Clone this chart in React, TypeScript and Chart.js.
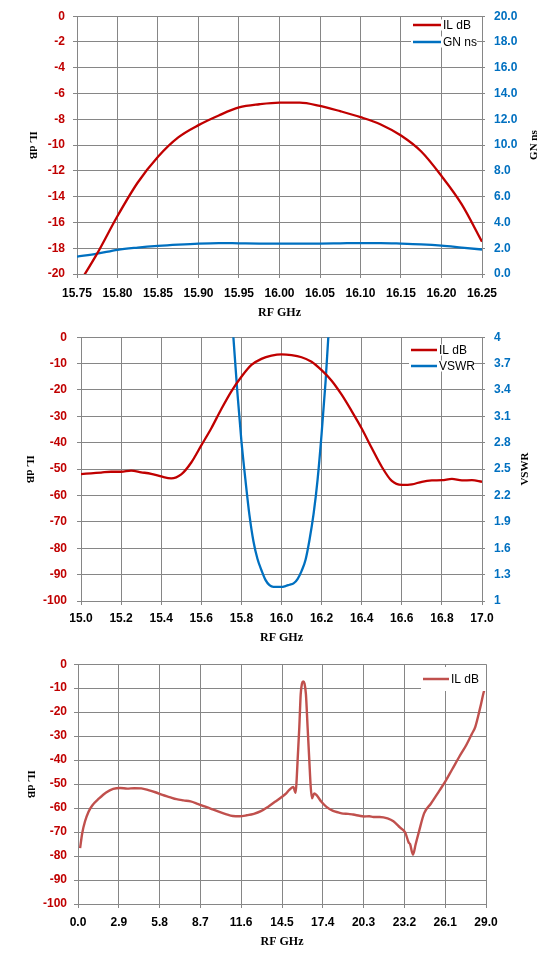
import { useEffect, useRef } from 'react';
import Chart from 'chart.js/auto';

const RED = '#c00000';
const BLUE = '#0070c0';
const BROWN = '#c0504d';
const GRID = '#868686';
const SANS = '"Liberation Sans", Arial, sans-serif';
const SERIF = '"Liberation Serif", "Times New Roman", serif';

// chart 1: narrow band, IL dB + group delay
const c1Freq = [15.75, 15.775, 15.8, 15.825, 15.85, 15.875, 15.9, 15.925, 15.95, 15.975, 16.0, 16.025, 16.05, 16.075, 16.1, 16.125, 16.15, 16.175, 16.2, 16.225, 16.25];
const c1Il = [-21.0, -18.4, -15.5, -12.9, -10.9, -9.4, -8.45, -7.7, -7.08, -6.83, -6.7, -6.7, -6.96, -7.37, -7.83, -8.4, -9.26, -10.5, -12.4, -14.6, -17.5];
const c1Gn = [1.35, 1.58, 1.88, 2.05, 2.18, 2.28, 2.36, 2.4, 2.38, 2.36, 2.35, 2.35, 2.36, 2.38, 2.4, 2.4, 2.36, 2.3, 2.2, 2.05, 1.9];
const c1FreqTicks = [15.75, 15.8, 15.85, 15.9, 15.95, 16.0, 16.05, 16.1, 16.15, 16.2, 16.25];
const c1IlTicks = [0, -2, -4, -6, -8, -10, -12, -14, -16, -18, -20];
const c1GnTicks = [0, 2, 4, 6, 8, 10, 12, 14, 16, 18, 20];

// chart 2: 15-17 GHz, IL dB + VSWR
const c2Freq = [15.0, 15.05, 15.1, 15.15, 15.2, 15.25, 15.3, 15.35, 15.4, 15.45, 15.5, 15.55, 15.6, 15.65, 15.7, 15.75, 15.8, 15.85, 15.9, 15.95, 16.0, 16.05, 16.1, 16.15, 16.2, 16.25, 16.3, 16.35, 16.4, 16.45, 16.5, 16.55, 16.6, 16.65, 16.7, 16.75, 16.8, 16.85, 16.9, 16.95, 17.0];
const c2Il = [-51.9, -51.6, -51.3, -51.0, -51.0, -50.6, -51.2, -51.8, -52.8, -53.5, -52.0, -47.5, -41.0, -34.5, -27.2, -20.5, -15.0, -10.5, -8.2, -7.0, -6.5, -6.8, -7.6, -9.3, -12.5, -16.5, -21.8, -28.0, -34.6, -42.0, -49.1, -54.5, -56.0, -55.8, -54.8, -54.3, -54.2, -53.7, -54.3, -54.2, -54.8];
const c2VswrFreq = [15.74, 15.76, 15.78, 15.8, 15.82, 15.84, 15.86, 15.88, 15.9, 15.92, 15.94, 15.96, 15.98, 16.0, 16.02, 16.04, 16.06, 16.08, 16.1, 16.12, 16.14, 16.16, 16.18, 16.2, 16.22, 16.24, 16.26];
const c2Vswr = [4.6, 4.0, 3.37, 2.82, 2.38, 1.98, 1.68, 1.48, 1.35, 1.24, 1.18, 1.16, 1.16, 1.16, 1.17, 1.185, 1.2, 1.25, 1.34, 1.47, 1.7, 1.99, 2.38, 2.9, 3.5, 4.25, 5.0];
const c2FreqTicks = [15.0, 15.2, 15.4, 15.6, 15.8, 16.0, 16.2, 16.4, 16.6, 16.8, 17.0];
const c2IlTicks = [0, -10, -20, -30, -40, -50, -60, -70, -80, -90, -100];
const c2VswrTicks = [1, 1.3, 1.6, 1.9, 2.2, 2.5, 2.8, 3.1, 3.4, 3.7, 4];

// chart 3: wideband IL dB
const c3Freq = [0.15, 0.3, 0.5, 0.75, 1.0, 1.5, 2.0, 2.5, 3.0, 3.5, 4.0, 4.5, 5.0, 5.5, 6.0, 6.5, 7.0, 7.5, 8.0, 8.5, 9.0, 9.5, 10.0, 10.5, 11.0, 11.5, 12.0, 12.5, 13.0, 13.5, 14.0, 14.5, 14.8, 15.0, 15.3, 15.47, 15.54, 15.61, 15.73, 15.83, 15.92, 16.01, 16.1, 16.2, 16.32, 16.44, 16.54, 16.63, 16.79, 16.96, 17.3, 17.66, 18.13, 18.5, 18.84, 19.2, 19.55, 20.0, 20.3, 20.7, 21.0, 21.45, 22.0, 22.42, 22.9, 23.26, 23.5, 23.6, 23.81, 24.0, 24.24, 24.6, 25.09, 25.7, 26.1, 26.6, 27.1, 27.6, 28.0, 28.24, 28.6, 28.9, 29.0];
const c3Il = [-76.7, -70.5, -65.5, -61.5, -59.0, -56.0, -53.5, -52.0, -51.6, -51.9, -51.7, -51.8, -52.5, -53.4, -54.5, -55.4, -56.3, -56.8, -57.2, -58.2, -59.3, -60.4, -61.5, -62.5, -63.3, -63.4, -63.0, -62.4, -61.3, -59.5, -57.4, -55.3, -53.9, -52.5, -51.2, -53.6, -48.3, -40.0, -26.3, -12.5, -8.0, -7.2, -8.0, -12.5, -26.3, -40.0, -51.1, -55.9, -53.9, -54.6, -57.4, -59.5, -61.2, -61.8, -62.3, -62.4, -62.7, -63.2, -63.5, -63.4, -63.7, -63.7, -64.3, -65.5, -68.2, -70.2, -74.3, -75.0, -79.4, -75.1, -69.7, -62.2, -58.1, -52.6, -49.0, -43.8, -38.6, -33.7, -29.0, -26.1, -17.8, -10.5, -10.0];
const c3FreqTicks = [0, 2.9, 5.8, 8.7, 11.6, 14.5, 17.4, 20.3, 23.2, 26.1, 29.0];
const c3IlTicks = [0, -10, -20, -30, -40, -50, -60, -70, -80, -90, -100];

const pts = (xs: number[], ys: number[]) => xs.map((x, i) => ({ x, y: ys[i] }));
const fixTicks = (arr: number[]) => (scale: any) => {
  scale.ticks = arr.map((value) => ({ value }));
};
const fixWidth = (w: number) => (scale: any) => {
  scale.width = w;
};
const fixHeight = (h: number) => (scale: any) => {
  scale.height = h;
};

type Titles = { left?: [string, number]; right?: [string, number]; bottom: [string, number] };

function titlePlugin(t: Titles) {
  return {
    id: 'axisTitles',
    afterDraw(chart: any) {
      const { ctx, chartArea: a } = chart;
      const cy = (a.top + a.bottom) / 2;
      ctx.save();
      ctx.fillStyle = '#000';
      ctx.textAlign = 'center';
      ctx.textBaseline = 'middle';
      ctx.font = `bold 11px ${SERIF}`;
      if (t.left) {
        ctx.save();
        ctx.translate(t.left[1], cy);
        ctx.rotate(Math.PI / 2);
        ctx.fillText(t.left[0], 0, 0);
        ctx.restore();
      }
      if (t.right) {
        ctx.save();
        ctx.translate(t.right[1], cy);
        ctx.rotate(-Math.PI / 2);
        ctx.fillText(t.right[0], 0, 0);
        ctx.restore();
      }
      ctx.font = `bold 12px ${SERIF}`;
      ctx.fillText(t.bottom[0], (a.left + a.right) / 2, t.bottom[1]);
      ctx.restore();
    },
  };
}

type LegendPos = { x: number; y: number; line: number; row: number; boxW: number; boxH: number };

function legendPlugin(p: LegendPos) {
  return {
    id: 'innerLegend',
    afterDraw(chart: any) {
      const { ctx } = chart;
      ctx.save();
      ctx.font = `12px ${SANS}`;
      ctx.textBaseline = 'middle';
      chart.data.datasets.forEach((ds: any, i: number) => {
        const y = p.y + i * p.row;
        ctx.fillStyle = '#fff';
        ctx.fillRect(p.x - 2, y - p.boxH / 2, p.boxW, p.boxH);
        ctx.strokeStyle = ds.borderColor;
        ctx.lineWidth = 2.5;
        ctx.beginPath();
        ctx.moveTo(p.x, y);
        ctx.lineTo(p.x + p.line, y);
        ctx.stroke();
        ctx.fillStyle = '#000';
        ctx.fillText(ds.label, p.x + p.line + 2, y + 0.5);
      });
      ctx.restore();
    },
  };
}

const tickFont = { family: SANS, size: 12, weight: 'bold' as const };

function gridAxis(extra: any) {
  return {
    type: 'linear',
    grid: { color: GRID, lineWidth: 1, tickLength: 4 },
    border: { color: GRID, width: 1 },
    ...extra,
  };
}

function buildChart1(): any {
  return {
    type: 'line',
    data: {
      datasets: [
        { label: 'IL dB', data: pts(c1Freq, c1Il), yAxisID: 'y', borderColor: RED, borderWidth: 2.3 },
        { label: 'GN ns', data: pts(c1Freq, c1Gn), yAxisID: 'y1', borderColor: BLUE, borderWidth: 2.3 },
      ],
    },
    options: {
      responsive: true,
      maintainAspectRatio: false,
      animation: false,
      layout: { padding: { top: 15, left: 0, right: 0, bottom: 0 } },
      elements: { point: { radius: 0 }, line: { cubicInterpolationMode: 'monotone' } },
      plugins: { legend: { display: false }, tooltip: { enabled: false } },
      scales: {
        x: gridAxis({
          min: 15.75,
          max: 16.25,
          afterBuildTicks: fixTicks(c1FreqTicks),
          afterFit: fixHeight(46),
          ticks: { color: '#000', font: tickFont, padding: 8, maxRotation: 0, callback: (v: number) => Number(v).toFixed(2) },
        }),
        y: gridAxis({
          position: 'left',
          min: -20,
          max: 0,
          afterBuildTicks: fixTicks(c1IlTicks),
          afterFit: fixWidth(77),
          ticks: { color: RED, font: tickFont, padding: 8, callback: (v: number) => String(v) },
        }),
        y1: gridAxis({
          position: 'right',
          min: 0,
          max: 20,
          grid: { color: GRID, drawOnChartArea: false, tickLength: 3 },
          afterBuildTicks: fixTicks(c1GnTicks),
          afterFit: fixWidth(72),
          ticks: { color: BLUE, font: tickFont, padding: 9, callback: (v: number) => Number(v).toFixed(1) },
        }),
      },
    },
    plugins: [
      titlePlugin({ left: ['IL dB', 33], right: ['GN ns', 534], bottom: ['RF GHz', 313] }),
      legendPlugin({ x: 413, y: 25, line: 28, row: 17, boxW: 66, boxH: 11 }),
    ],
  };
}

function buildChart2(): any {
  return {
    type: 'line',
    data: {
      datasets: [
        { label: 'IL dB', data: pts(c2Freq, c2Il), yAxisID: 'y', borderColor: RED, borderWidth: 2.3 },
        { label: 'VSWR', data: pts(c2VswrFreq, c2Vswr), yAxisID: 'y1', borderColor: BLUE, borderWidth: 2.3 },
      ],
    },
    options: {
      responsive: true,
      maintainAspectRatio: false,
      animation: false,
      layout: { padding: { top: 17, left: 0, right: 0, bottom: 0 } },
      elements: { point: { radius: 0 }, line: { cubicInterpolationMode: 'monotone' } },
      plugins: { legend: { display: false }, tooltip: { enabled: false } },
      scales: {
        x: gridAxis({
          min: 15,
          max: 17,
          afterBuildTicks: fixTicks(c2FreqTicks),
          afterFit: fixHeight(49),
          ticks: { color: '#000', font: tickFont, padding: 6, maxRotation: 0, callback: (v: number) => Number(v).toFixed(1) },
        }),
        y: gridAxis({
          position: 'left',
          min: -100,
          max: 0,
          afterBuildTicks: fixTicks(c2IlTicks),
          afterFit: fixWidth(81),
          ticks: { color: RED, font: tickFont, padding: 10, callback: (v: number) => String(v) },
        }),
        y1: gridAxis({
          position: 'right',
          min: 1,
          max: 4,
          grid: { color: GRID, drawOnChartArea: false, tickLength: 3 },
          afterBuildTicks: fixTicks(c2VswrTicks),
          afterFit: fixWidth(72),
          ticks: { color: BLUE, font: tickFont, padding: 9, callback: (v: number) => String(Math.round(v * 10) / 10) },
        }),
      },
    },
    plugins: [
      titlePlugin({ left: ['IL dB', 30], right: ['VSWR', 525], bottom: ['RF GHz', 318] }),
      legendPlugin({ x: 411, y: 30, line: 26, row: 16, boxW: 64, boxH: 11 }),
    ],
  };
}

function buildChart3(): any {
  return {
    type: 'line',
    data: {
      datasets: [{ label: 'IL dB', data: pts(c3Freq, c3Il), yAxisID: 'y', borderColor: BROWN, borderWidth: 2.4 }],
    },
    options: {
      responsive: true,
      maintainAspectRatio: false,
      animation: false,
      layout: { padding: { top: 14, left: 0, right: 68, bottom: 0 } },
      elements: { point: { radius: 0 }, line: { cubicInterpolationMode: 'monotone' } },
      plugins: { legend: { display: false }, tooltip: { enabled: false } },
      scales: {
        x: gridAxis({
          min: 0,
          max: 29,
          afterBuildTicks: fixTicks(c3FreqTicks),
          afterFit: fixHeight(63),
          ticks: { color: '#000', font: tickFont, padding: 7, maxRotation: 0, callback: (v: number) => Number(v).toFixed(1) },
        }),
        y: gridAxis({
          position: 'left',
          min: -100,
          max: 0,
          afterBuildTicks: fixTicks(c3IlTicks),
          afterFit: fixWidth(78),
          ticks: { color: RED, font: tickFont, padding: 7, callback: (v: number) => String(v) },
        }),
      },
    },
    plugins: [
      titlePlugin({ left: ['IL dB', 31], bottom: ['RF GHz', 292] }),
      legendPlugin({ x: 423, y: 29, line: 26, row: 16, boxW: 65, boxH: 24 }),
    ],
  };
}

function ChartBox({ top, height, build }: { top: number; height: number; build: () => any }) {
  const canvasRef = useRef<HTMLCanvasElement | null>(null);

  useEffect(() => {
    const ctx = canvasRef.current?.getContext('2d');
    if (!ctx) return;
    const chart = new Chart(ctx, build());
    return () => chart.destroy();
  }, [build]);

  return (
    <div style={{ position: 'absolute', left: 0, top, width: 554, height }}>
      <canvas ref={canvasRef} />
    </div>
  );
}

export default function App() {
  return (
    <div style={{ position: 'absolute', left: 0, top: 0, width: 554, height: 967, background: '#fff' }}>
      <ChartBox top={0} height={320} build={buildChart1} />
      <ChartBox top={320} height={330} build={buildChart2} />
      <ChartBox top={650} height={317} build={buildChart3} />
    </div>
  );
}
